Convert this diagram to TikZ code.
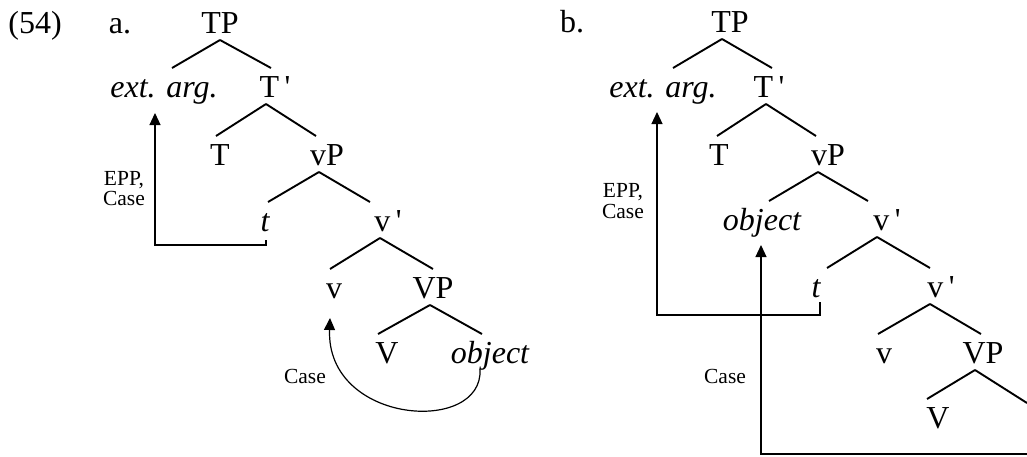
\documentclass[tikz,border=0pt]{standalone}
\usepackage{fontspec}
\setmainfont{Liberation Serif}
\usetikzlibrary{calc,arrows.meta}
\newcommand\edgeline[4]{\draw[tree] ($(#1.south)+(#2,0)$) -- ($(#3.north)+(#4,0)$);}
\newcommand\pr{\,\textquotesingle}
\begin{document}
\begin{tikzpicture}[x=1pt,y=-1pt,
  lab/.style={font=\fontsize{32}{32}\selectfont, inner sep=0pt, outer sep=1pt,
              text height=28pt, text depth=6pt, anchor=base},
  sm/.style={font=\fontsize{21.5}{21.5}\selectfont, inner sep=0pt, anchor=base},
  tree/.style={line width=1.9pt},
  arr/.style={line width=1.2pt, -{Triangle[width=11pt,length=12pt]}}]
\useasboundingbox (0,0) rectangle (1027,456);
\fill[white] (0,0) rectangle (1027,456);
\clip (0,0) rectangle (1027,456);

% ---------- panel a ----------
\node[lab] (n54) at (35,33) {(54)};
\node[lab] (la) at (120,33) {a.};
\node[lab] (aTP) at (220,33) {TP};
\node[lab] (aExt) at (164,97) {\itshape ext. arg.};
\node[lab] (aT1) at (275,97) {T\pr};
\node[lab] (aT) at (220,165) {T};
\node[lab] (avP) at (327,165) {vP};
\node[lab] (at) at (265,231) {\itshape t};
\node[lab] (av1) at (388,231) {v\pr};
\node[lab] (av) at (334,298) {v};
\node[lab] (aVP) at (433,298) {VP};
\node[lab] (aV) at (387,363) {V};
\node[lab] (aobj) at (490,363) {\itshape object};
\node[sm] (aEPP1) at (124,185) {EPP,};
\node[sm] (aEPP2) at (124,205) {Case};
\node[sm] (aCase) at (305,383) {Case};

\edgeline{aTP}{0}{aExt}{8}
\edgeline{aTP}{0}{aT1}{-4}
\edgeline{aT1}{-9}{aT}{-4}
\edgeline{aT1}{-9}{avP}{-11}
\edgeline{avP}{-8}{at}{3}
\edgeline{avP}{-8}{av1}{-18}
\edgeline{av1}{-8}{av}{-4}
\edgeline{av1}{-8}{aVP}{0}
\edgeline{aVP}{-3}{aV}{-9}
\edgeline{aVP}{-3}{aobj}{-8}

\coordinate (aEPPs) at ($(at.south)+(1,2)$);
\draw[arr] (aEPPs) -- (aEPPs |- 0,245) -| ($(aExt.south)+(-9,9)$);
\draw[arr] ($(aobj.south)+(-10,-1)$) .. controls (484,435) and (326,425) .. ($(av.south)+(-4,13)$);

% ---------- panel b ----------
\node[lab] (lb) at (572,32) {b.};
\node[lab] (bTP) at (730,32) {TP};
\node[lab] (bExt) at (663,97) {\itshape ext. arg.};
\node[lab] (bT1) at (769,97) {T\pr};
\node[lab] (bT) at (719,165) {T};
\node[lab] (bvP) at (828,165) {vP};
\node[lab] (bobj) at (762,230) {\itshape object};
\node[lab] (bv1) at (887,230) {v\pr};
\node[lab] (bt) at (816,297) {\itshape t};
\node[lab] (bv2) at (941,297) {v\pr};
\node[lab] (bv) at (884,363) {v};
\node[lab] (bVP) at (983,363) {VP};
\node[lab] (bV) at (938,428) {V};
\node[sm] (bEPP1) at (623,197) {EPP,};
\node[sm] (bEPP2) at (623,218) {Case};
\node[sm] (bCase) at (725,383) {Case};
\coordinate (bobjtop) at (1027,403);
\coordinate (bobjbot) at (1045,440);

\edgeline{bTP}{-8}{bExt}{10}
\edgeline{bTP}{-8}{bT1}{3}
\edgeline{bT1}{-3}{bT}{-2}
\edgeline{bT1}{-3}{bvP}{-12}
\edgeline{bvP}{-10}{bobj}{7}
\edgeline{bvP}{-10}{bv1}{-19}
\edgeline{bv1}{-10}{bt}{11}
\edgeline{bv1}{-10}{bv2}{-11}
\edgeline{bv2}{-11}{bv}{-6}
\edgeline{bv2}{-11}{bVP}{-2}
\edgeline{bVP}{-8}{bV}{-11}
\draw[tree] ($(bVP.south)+(-8,0)$) -- (bobjtop);

\coordinate (bEPPs) at ($(bt.south)+(4,-2)$);
\draw[arr] (bEPPs) -- (bEPPs |- 0,315) -| ($(bExt.south)+(-6,8)$);
\draw[arr] (bobjbot) -- (bobjbot |- 0,454) -| ($(bobj.south)+(-1,8)$);
\end{tikzpicture}
\end{document}
